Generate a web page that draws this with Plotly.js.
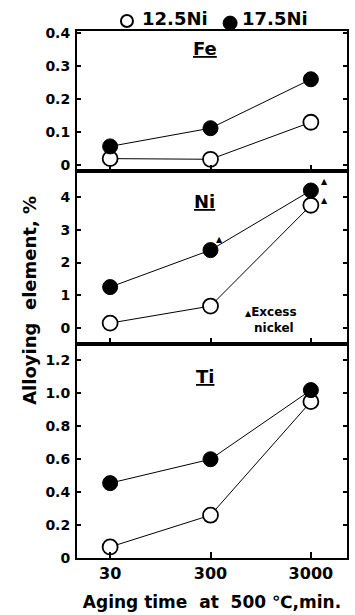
<!DOCTYPE html>
<html>
<head>
<meta charset="utf-8">
<script src="https://cdn.plot.ly/plotly-3.0.1.min.js"></script>
<style>html,body{margin:0;padding:0;background:#fff;}#chart{width:355px;height:615px;}</style>
</head>
<body>
<div id="chart"></div>
<script>
const times = [30, 300, 3000];
const timeLabels = ['30', '300', '3000'];
const feNi125 = [0.02, 0.018, 0.13];
const feNi175 = [0.057, 0.112, 0.26];
const niNi125 = [0.15, 0.67, 3.75];
const niNi175 = [1.25, 2.38, 4.2];
const tiNi125 = [0.067, 0.26, 0.95];
const tiNi175 = [0.455, 0.6, 1.02];
const excessX = [300, 3000, 3000];
const excessY = [2.71, 4.48, 3.9];
const feTicks = [0, 0.1, 0.2, 0.3, 0.4];
const feTickText = ['0', '0.1', '0.2', '0.3', '0.4'];
const niTicks = [0, 1, 2, 3, 4];
const niTickText = ['0', '1', '2', '3', '4'];
const tiTicks = [0, 0.2, 0.4, 0.6, 0.8, 1.0, 1.2];
const tiTickText = ['0', '0.2', '0.4', '0.6', '0.8', '1.0', '1.2'];

const FONT = 'DejaVu Sans';
const openMarker = {symbol: 'circle', size: 15, color: '#fff', line: {color: '#000', width: 1.8}};
const fillMarker = {symbol: 'circle', size: 15, color: '#000', line: {color: '#000', width: 1}};
const lineStyle = {color: '#000', width: 1};

function tr(y, xa, ya, marker) {
  return {x: times, y: y, xaxis: xa, yaxis: ya, type: 'scatter', mode: 'lines+markers',
    line: lineStyle, marker: marker, showlegend: false, cliponaxis: false, hoverinfo: 'skip'};
}
const data = [
  tr(feNi125, 'x3', 'y3', openMarker), tr(feNi175, 'x3', 'y3', fillMarker),
  tr(niNi125, 'x2', 'y2', openMarker), tr(niNi175, 'x2', 'y2', fillMarker),
  tr(tiNi125, 'x', 'y', openMarker), tr(tiNi175, 'x', 'y', fillMarker)
];

const xRange = [1.147, 3.837];
function xax(anchor, labels) {
  return {anchor: anchor, type: 'log', range: xRange, tickvals: times, ticktext: timeLabels,
    ticks: 'inside', ticklen: 6, tickwidth: 2, tickcolor: '#000',
    showline: true, linewidth: 2, linecolor: '#000', mirror: true,
    showgrid: false, zeroline: false, showticklabels: labels,
    tickfont: {family: FONT, size: 16, color: '#000', weight: 'bold'}};
}
function yax(domain, range, vals, text) {
  return {domain: domain, range: range, tickvals: vals, ticktext: text,
    ticks: 'inside', ticklen: 4, tickwidth: 2, tickcolor: '#000',
    showline: true, linewidth: 2, linecolor: '#000', mirror: 'ticks',
    showgrid: false, zeroline: false, ticklabelstandoff: 2,
    tickfont: {family: FONT, size: 14, color: '#000', weight: 'bold'}};
}

const bx = xax('y', true);
bx.title = {text: 'Aging time  at  500 \u2103,min.', font: {family: FONT, size: 17, color: '#000', weight: 'bold'}, standoff: 14};

function ann(text, x, y, size, opts) {
  return Object.assign({text: text, xref: 'paper', yref: 'paper', x: x, y: y, showarrow: false,
    xanchor: 'center', yanchor: 'middle',
    font: {family: FONT, size: size, color: '#000', weight: 'bold'}}, opts || {});
}
const annotations = [
  ann('12.5Ni', 0.233, 1.023, 18, {xanchor: 'left'}),
  ann('17.5Ni', 0.604, 1.023, 18, {xanchor: 'left'}),
  ann('<u>Fe</u>', 0.474, 0.966, 18),
  ann('<u>Ni</u>', 0.474, 0.677, 18),
  ann('<u>Ti</u>', 0.474, 0.345, 18),
  ann('<span style="font-size:8px">\u25B2</span>Excess', 0.615, 0.467, 12, {xanchor: 'left'}),
  ann('nickel', 0.648, 0.436, 12, {xanchor: 'left'}),
  ann('Alloying  element, %', -0.174, 0.488, 18, {textangle: -90})
];
const shifts = [9, 14, 14];
for (let i = 0; i < excessX.length; i++) {
  annotations.push({text: '\u25B2', xref: 'x2', yref: 'y2', x: Math.log10(excessX[i]), y: excessY[i],
    showarrow: false, xshift: shifts[i], xanchor: 'center', yanchor: 'middle',
    font: {family: FONT, size: 8, color: '#000'}});
}

const shapes = [
  {type: 'circle', xref: 'paper', yref: 'paper', xsizemode: 'pixel', ysizemode: 'pixel',
   xanchor: 0.185, yanchor: 1.019, x0: -6, x1: 6, y0: -6, y1: 6, line: {color: '#000', width: 2}, fillcolor: '#fff'},
  {type: 'circle', xref: 'paper', yref: 'paper', xsizemode: 'pixel', ysizemode: 'pixel',
   xanchor: 0.567, yanchor: 1.015, x0: -7, x1: 7, y0: -7, y1: 7, line: {color: '#000', width: 1}, fillcolor: '#000'}
];

const layout = {
  width: 355, height: 615,
  margin: {l: 77, r: 8, t: 31, b: 57},
  paper_bgcolor: '#fff', plot_bgcolor: '#fff',
  showlegend: false,
  xaxis: bx,
  xaxis2: xax('y2', false),
  xaxis3: xax('y3', false),
  yaxis: yax([0, 0.406], [0, 1.30], tiTicks, tiTickText),
  yaxis2: yax([0.406, 0.734], [-0.49, 4.79], niTicks, niTickText),
  yaxis3: yax([0.734, 1], [-0.018, 0.406], feTicks, feTickText),
  annotations: annotations,
  shapes: shapes
};
Plotly.newPlot('chart', data, layout, {staticPlot: true});
</script>
</body>
</html>
